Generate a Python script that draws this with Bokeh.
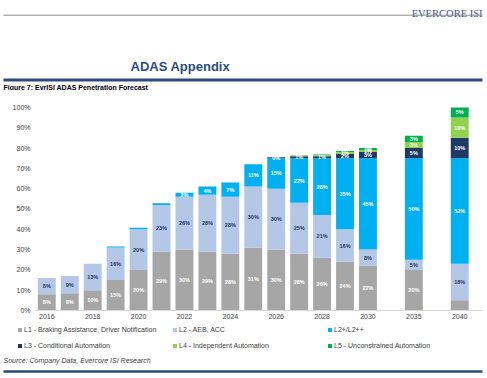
import math
from bokeh.plotting import figure
from bokeh.layouts import column
from bokeh.models import ColumnDataSource, Range1d, FixedTicker, Legend, LegendItem, PrintfTickFormatter
from bokeh.core.properties import value
from bokeh.embed import file_html
from bokeh.resources import INLINE

# ---------------- data ----------------
years = ["2016", "2017", "2018", "2019", "2020", "2021", "2022", "2023", "2024",
         "2025", "2026", "2027", "2028", "2029", "2030", "2035", "2040"]
l1 = [8, 8.5, 10, 15, 20, 29, 30, 29, 28, 31, 30, 28, 26, 24, 22, 20, 5]
l2 = [8, 8.5, 13, 16, 20, 23, 26, 28, 28, 30, 30, 25, 21, 16, 8, 5, 18]
l2p = [0, 0, 0, 0.5, 0.7, 0.8, 2, 4, 7, 11, 15, 22, 28, 35, 45, 50, 52]
l3 = [0, 0, 0, 0, 0, 0, 0, 0, 0, 0, 0.4, 1, 1, 2, 3, 5, 10]
l4 = [0, 0, 0, 0, 0, 0, 0, 0, 0, 0, 0, 0.5, 0.5, 1, 1, 3, 10]
l5 = [0, 0, 0, 0, 0, 0, 0, 0, 0, 0, 0, 0, 0.3, 0.5, 1, 3, 5]
series_names = ["L1 - Braking Assistance, Driver Notification", "L2 - AEB, ACC", "L2+/L2++",
                "L3 - Conditional Automation", "L4 - Independent Automation",
                "L5 - Unconstrained Automation"]
series_keys = ["l1", "l2", "l2p", "l3", "l4", "l5"]
series_colors = ["#A6A6A6", "#B4C7E7", "#00B0F0", "#1F3864", "#92D050", "#00B050"]
label_colors = ["white", "#1F3864", "white", "white", "white", "white"]
tick_years = ["2016", "2018", "2020", "2022", "2024", "2026", "2028", "2030", "2035", "2040"]
y_ticks = [0, 10, 20, 30, 40, 50, 60, 70, 80, 90, 100]
hidden_labels = [("2040", "l1")]
extra_labels = [("2026", "l3")]

header_brand = "EVERCORE ISI"
header_title = "ADAS Appendix"
fig_caption = "Figure 7: EvrISI ADAS Penetration Forecast"
source_text = "Source: Company Data, Evercore ISI Research"

FONT = "Liberation Sans"
W = 487
NAVY = "#2C4A7C"


def blank(fig):
    fig.axis.visible = False
    fig.grid.visible = False
    fig.outline_line_color = None


# ---------------- header ----------------
HH = 90
hdr = figure(width=W, height=HH, x_range=Range1d(0, W), y_range=Range1d(HH, 0),
             toolbar_location=None, output_backend="svg", min_border=0, frame_align=False)
blank(hdr)
hdr.text(x=[482], y=[13], text=[header_brand], text_font=value("Liberation Serif"),
         text_font_size="10.5px", text_align="right", text_baseline="alphabetic", text_color="#3B5486")
hdr.segment(x0=[3], y0=[14.7], x1=[482], y1=[14.7], line_color="#8C8C8C", line_width=1)
hdr.text(x=[130], y=[66], text=[header_title], text_font=value(FONT), text_font_style="bold",
         text_font_size="13px", text_align="left", text_baseline="alphabetic", text_color="#2B4C7E")
hdr.segment(x0=[3], y0=[79.5], x1=[482], y1=[79.5], line_color=NAVY, line_width=3)
hdr.text(x=[3], y=[87], text=[fig_caption], text_font=value(FONT), text_font_style="bold",
         text_font_size="7px", text_align="left", text_baseline="alphabetic", text_color="black")

# ---------------- chart ----------------
xpos = []
for i, yr in enumerate(years):
    if i == 0:
        xpos.append(0)
    else:
        xpos.append(xpos[-1] + (1 if int(yr) - int(years[i - 1]) == 1 else 2))

data = dict(x=xpos, year=years, l1=l1, l2=l2, l2p=l2p, l3=l3, l4=l4, l5=l5)
src = ColumnDataSource(data)

p = figure(width=W, height=231, x_range=Range1d(-0.493, 18.993), y_range=Range1d(0, 103.4),
           toolbar_location=None, output_backend="svg", frame_align=False,
           min_border_left=35, min_border_right=5, min_border_top=10, min_border_bottom=10)
p.outline_line_color = None
p.grid.visible = False

renderers = p.vbar_stack(series_keys, x="x", width=0.78, color=series_colors,
                         line_color=None, source=src)

# segment labels
lx, ly, lt, lc = [], [], [], []
for i, yr in enumerate(years):
    base = 0
    for k, key in enumerate(series_keys):
        v = data[key][i]
        show = (v >= 1 and (yr, key) not in hidden_labels) or (yr, key) in extra_labels
        if show:
            lx.append(xpos[i])
            ly.append(base + v / 2)
            lt.append(f"{int(math.floor(v + 0.5))}%")
            lc.append(label_colors[k])
        base += v
p.text(x=lx, y=ly, text=lt, text_color=lc, text_font=value(FONT), text_font_style="bold",
       text_font_size="5.5px", text_align="center", text_baseline="middle")

# axes
p.xaxis.ticker = FixedTicker(ticks=[xpos[years.index(t)] for t in tick_years])
p.xaxis.major_label_overrides = {xpos[years.index(t)]: t for t in tick_years}
p.xaxis.axis_line_color = "#D9D9D9"
p.xaxis.major_label_standoff = 3
p.yaxis.ticker = FixedTicker(ticks=y_ticks)
p.yaxis.formatter = PrintfTickFormatter(format="%d%%")
p.yaxis.axis_line_color = None
p.yaxis.major_label_standoff = 5
for ax in (p.xaxis, p.yaxis):
    ax.major_tick_line_color = None
    ax.minor_tick_line_color = None
    ax.major_tick_out = 0
    ax.major_tick_in = 0
    ax.minor_tick_out = 0
    ax.minor_tick_in = 0
    ax.major_label_text_font = FONT
    ax.major_label_text_font_size = "7px"
    ax.major_label_text_color = "#404040"

# ---------------- footer (legend + source) ----------------
FH = 57
ftr = figure(width=W, height=FH, x_range=Range1d(0, W), y_range=Range1d(FH, 0),
             toolbar_location=None, output_backend="svg", min_border=0, frame_align=False)
blank(ftr)
# zero-height swatch carriers so the legend can draw its colour keys
swatches = [ftr.vbar(x=[0], top=[0], bottom=[0], width=0, color=c, line_color=None)
            for c in series_colors]
items = [LegendItem(label=n, renderers=[r]) for n, r in zip(series_names, swatches)]
leg = Legend(items=items, location=(17, 25), orientation="horizontal", ncols=3,
             glyph_width=5, glyph_height=5, label_standoff=2, label_width=148, label_height=16,
             spacing=0, padding=0, margin=0, border_line_color=None, background_fill_alpha=0,
             label_text_font=FONT, label_text_font_size="7px", label_text_color="#404040")
ftr.add_layout(leg, "center")
ftr.text(x=[3], y=[39], text=[source_text], text_font=value(FONT), text_font_style="italic",
         text_font_size="7px", text_align="left", text_baseline="middle", text_color="#404040")
ftr.segment(x0=[3], y0=[50], x1=[482], y1=[50], line_color=NAVY, line_width=2.5)

layout = column(hdr, p, ftr, spacing=0)
open("out.html", "w").write(file_html(layout, INLINE))
